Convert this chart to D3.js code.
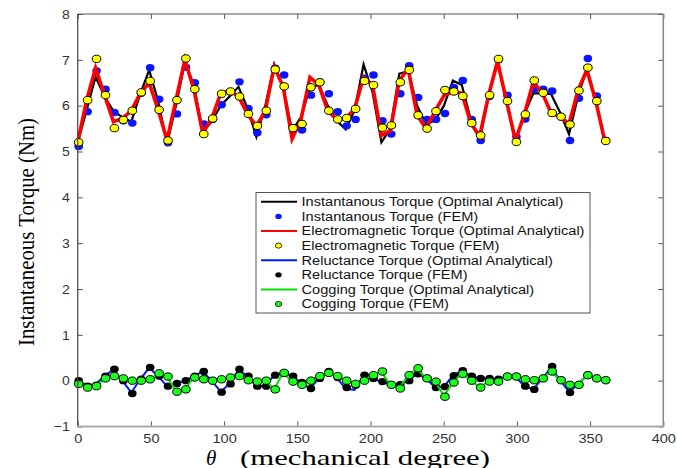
<!DOCTYPE html>
<html><head><meta charset="utf-8">
<script src="https://cdn.jsdelivr.net/npm/d3@7"></script>
<style>
html,body{margin:0;padding:0;background:#fff;}
svg{display:block;}
</style></head>
<body>
<svg id="chart" width="677" height="468"></svg>
<script>
// ---- data ----
const theta = d3.range(60).map(i => i * 360 / 59); // mechanical degree grid (0..360)
const xTicks = [0, 50, 100, 150, 200, 250, 300, 350, 400];
const yTicks = [-1, 0, 1, 2, 3, 4, 5, 6, 7, 8];

const instAnalytical = [5.20,5.90,6.63,6.20,5.88,5.75,5.65,6.25,6.78,6.10,5.17,6.00,6.95,6.45,5.43,5.65,6.00,6.20,6.41,5.95,
  5.32,6.00,6.90,6.40,5.45,5.75,6.40,6.45,6.00,5.67,5.48,5.90,6.90,6.30,5.20,5.50,6.70,6.75,6.00,5.60,
  5.68,6.00,6.55,6.45,5.70,5.24,6.23,6.95,6.10,5.24,5.81,6.27,6.27,6.25,5.85,5.38,6.20,6.80,6.10,5.23];
const instFEM = [5.11,5.87,6.76,6.36,5.85,5.67,5.62,6.27,6.83,6.14,5.19,5.82,6.84,6.50,5.60,5.70,6.02,6.30,6.52,5.94,
  5.41,5.80,6.82,6.67,5.51,5.47,6.23,6.52,6.26,5.87,5.56,5.70,6.60,6.67,5.67,5.38,6.26,6.87,6.18,5.70,
  5.70,5.83,6.40,6.55,5.70,5.24,6.20,7.00,6.23,5.32,5.71,6.36,6.36,6.32,5.76,5.24,6.16,7.03,6.21,5.24];
const emAnalytical = [5.20,6.12,6.82,6.23,5.65,5.72,5.89,6.27,6.50,5.91,5.25,6.12,7.00,6.36,5.40,5.72,6.26,6.33,6.20,5.82,
  5.55,5.89,6.85,6.42,5.28,5.70,6.62,6.45,5.89,5.70,5.72,5.93,6.62,6.45,5.35,5.45,6.55,6.80,5.79,5.50,
  5.88,6.22,6.31,6.27,5.62,5.33,6.23,6.97,6.10,5.24,5.81,6.52,6.28,5.84,5.76,5.60,6.33,6.78,6.10,5.23];
const emFEM = [5.20,6.12,7.02,6.23,5.51,5.69,5.89,6.29,6.54,5.91,5.24,6.12,7.03,6.36,5.38,5.72,6.26,6.31,6.20,5.82,
  5.56,5.89,6.79,6.42,5.51,5.60,6.40,6.51,5.89,5.70,5.73,5.93,6.54,6.45,5.52,5.57,6.51,6.78,5.79,5.50,
  5.88,6.34,6.31,6.21,5.62,5.35,6.23,7.02,6.10,5.21,5.81,6.55,6.28,5.84,5.76,5.59,6.33,6.83,6.10,5.23];
const relAnalytical = [0.00,-0.10,-0.08,0.10,0.24,0.00,-0.26,0.03,0.28,0.10,-0.12,-0.06,0.00,0.10,0.20,0.00,-0.24,-0.07,0.24,0.10,
  -0.12,-0.12,0.12,0.17,0.10,-0.04,-0.17,0.05,0.20,0.07,-0.18,-0.20,0.12,0.05,-0.02,-0.09,-0.09,0.00,0.15,0.05,
  -0.15,-0.13,0.11,0.22,0.10,0.05,0.05,0.03,0.09,0.09,-0.12,-0.19,0.05,0.28,0.01,-0.24,-0.09,0.12,0.05,0.01];
const relFEM = [0.00,-0.12,-0.10,0.10,0.25,0.00,-0.28,0.03,0.29,0.10,-0.12,-0.06,0.00,0.10,0.20,0.00,-0.25,-0.07,0.25,0.10,
  -0.12,-0.12,0.12,0.17,0.10,-0.04,-0.17,0.05,0.20,0.07,-0.15,-0.10,0.12,0.05,-0.02,-0.09,-0.09,0.00,0.15,0.05,
  -0.15,-0.13,0.11,0.22,0.10,0.05,0.05,0.03,0.09,0.09,-0.12,-0.19,0.05,0.31,0.01,-0.26,-0.09,0.12,0.05,0.01];
const cogAnalytical = [-0.07,-0.14,-0.12,0.05,0.10,0.05,0.00,0.00,0.03,0.15,0.09,-0.23,-0.19,0.07,0.03,0.00,0.03,0.07,0.10,0.01,
  -0.02,0.00,-0.18,0.17,-0.02,-0.09,0.00,0.10,0.17,0.10,0.00,-0.07,0.00,0.12,0.19,-0.09,-0.16,0.12,0.26,0.05,
  -0.02,-0.33,-0.04,0.15,0.00,-0.14,-0.02,-0.02,0.09,0.09,0.03,0.01,0.05,0.20,0.01,-0.09,-0.09,0.12,0.05,0.01];
const cogFEM = [-0.07,-0.15,-0.12,0.05,0.10,0.05,0.00,0.00,0.03,0.16,0.09,-0.24,-0.19,0.07,0.03,0.00,0.03,0.07,0.10,0.01,
  -0.02,0.00,-0.19,0.17,-0.02,-0.09,0.00,0.10,0.17,0.10,0.00,-0.07,0.00,0.12,0.20,-0.09,-0.17,0.12,0.27,0.05,
  -0.02,-0.35,-0.04,0.15,0.00,-0.15,-0.02,-0.02,0.09,0.09,0.03,0.01,0.05,0.20,0.01,-0.09,-0.09,0.12,0.05,0.01];

const legendLabels = [
  "Instantanous Torque (Optimal Analytical)",
  "Instantanous Torque (FEM)",
  "Electromagnetic Torque (Optimal Analytical)",
  "Electromagnetic Torque (FEM)",
  "Reluctance Torque (Optimal Analytical)",
  "Reluctance Torque (FEM)",
  "Cogging Torque (Optimal Analytical)",
  "Cogging Torque (FEM)"
];

// ---- layout ----
const L = 77.7, R = 663.3, T = 14, B = 426.5;
const svg = d3.select("#chart");
const x = d3.scaleLinear().domain([0, 400]).range([L, R]);
const y = d3.scaleLinear().domain([-1, 8]).range([B, T]);

const series = [
  {type: "line", data: instAnalytical, color: "#000000", width: 2.2},
  {type: "dot", data: instFEM, fill: "#0a14ff", stroke: "none"},
  {type: "line", data: emAnalytical, color: "#ff0000", width: 3.6},
  {type: "dot", data: emFEM, fill: "#ffff00", stroke: "#000"},
  {type: "line", data: relAnalytical, color: "#0018ff", width: 2},
  {type: "dot", data: relFEM, fill: "#000000", stroke: "none"},
  {type: "line", data: cogAnalytical, color: "#00e000", width: 2},
  {type: "dot", data: cogFEM, fill: "#1aff1a", stroke: "#000"}
];

const line = d3.line().x((d, i) => x(theta[i])).y(d => y(d));

svg.append("rect").attr("x", L).attr("y", T).attr("width", R - L).attr("height", B - T)
  .attr("fill", "#fff").attr("stroke", "none");

const plot = svg.append("g");
series.forEach(s => {
  if (s.type === "line") {
    plot.append("path").datum(s.data).attr("d", line)
      .attr("fill", "none").attr("stroke", s.color).attr("stroke-width", s.width)
      .attr("stroke-linejoin", "miter").attr("stroke-miterlimit", 4);
  } else {
    plot.append("g").selectAll("ellipse").data(s.data).join("ellipse")
      .attr("cx", (d, i) => x(theta[i]) + 1).attr("cy", d => y(d))
      .attr("rx", 4.3).attr("ry", 3.7)
      .attr("fill", s.fill).attr("stroke", s.stroke).attr("stroke-width", 1);
  }
});

// axes
const tickFont = "Liberation Sans, Arial, sans-serif";
const gx = svg.append("g").attr("transform", `translate(0,${B})`)
  .call(d3.axisBottom(x).tickValues(xTicks).tickSize(-5).tickPadding(8).tickFormat(d3.format("d")));
const gy = svg.append("g").attr("transform", `translate(${L},0)`)
  .call(d3.axisLeft(y).tickValues(yTicks).tickSize(-5).tickPadding(8).tickFormat(d3.format("d")));
const gt = svg.append("g").attr("transform", `translate(0,${T})`)
  .call(d3.axisTop(x).tickValues(xTicks).tickSize(-5).tickFormat(""));
const gr = svg.append("g").attr("transform", `translate(${R},0)`)
  .call(d3.axisRight(y).tickValues(yTicks).tickSize(-5).tickFormat(""));

[gx, gy, gt, gr].forEach(g => {
  g.selectAll(".domain").remove();
  g.selectAll(".tick line").attr("stroke", "#555");
  g.selectAll("text").attr("font-family", tickFont).attr("font-size", 13).attr("fill", "#333");
});
gx.selectAll("text").attr("y", 0).attr("dy", null).attr("transform", null)
  .attr("y", 16);  // baseline just below the axis
gx.selectAll("text").each(function () {
  const w = this.getComputedTextLength();
  d3.select(this).attr("textLength", w * 1.12).attr("lengthAdjust", "spacingAndGlyphs");
});
gy.selectAll("text").attr("x", -8);
gy.selectAll("text").each(function () {
  const w = this.getComputedTextLength();
  d3.select(this).attr("textLength", w * 1.08).attr("lengthAdjust", "spacingAndGlyphs");
});

// border lines
svg.append("line").attr("x1", L).attr("x2", L).attr("y1", T).attr("y2", B).attr("stroke", "#444").attr("stroke-width", 1.2);
svg.append("line").attr("x1", L).attr("x2", R).attr("y1", T).attr("y2", T).attr("stroke", "#555").attr("stroke-width", 1.2);
svg.append("line").attr("x1", R).attr("x2", R).attr("y1", T).attr("y2", B).attr("stroke", "#888").attr("stroke-width", 1.5);
svg.append("line").attr("x1", L).attr("x2", R).attr("y1", B).attr("y2", B).attr("stroke", "#aaa").attr("stroke-width", 2);

// axis titles
const serif = "Liberation Serif, Times New Roman, serif";
svg.append("text").attr("x", 206).attr("y", 464.5)
  .attr("font-family", serif).attr("font-size", 21).attr("font-style", "italic").attr("fill", "#000")
  .text("θ");
svg.append("text").attr("x", 240).attr("y", 464.5)
  .attr("font-family", serif).attr("font-size", 21).attr("fill", "#000")
  .attr("textLength", 250).attr("lengthAdjust", "spacingAndGlyphs")
  .text("(mechanical degree)");

svg.append("text")
  .attr("transform", `translate(34,232) rotate(-90)`)
  .attr("text-anchor", "middle")
  .attr("font-family", serif).attr("font-size", 23)
  .attr("textLength", 228).attr("lengthAdjust", "spacingAndGlyphs")
  .attr("fill", "#000")
  .text("Instantaneous Torque (Nm)");

// legend
const lg = svg.append("g");
const lgX = 256, lgY = 192.5, lgW = 334, lgH = 120.5, rowH = 14.6;
lg.append("rect").attr("x", lgX).attr("y", lgY).attr("width", lgW).attr("height", lgH)
  .attr("fill", "#fff").attr("stroke", "#555").attr("stroke-width", 1);
const legendTexts = [];
series.forEach((s, i) => {
  const cy = lgY + 9.3 + i * rowH;
  if (s.type === "line") {
    lg.append("line").attr("x1", lgX + 5).attr("x2", lgX + 41).attr("y1", cy).attr("y2", cy)
      .attr("stroke", s.color).attr("stroke-width", 2);
  } else {
    lg.append("ellipse").attr("cx", lgX + 22.5).attr("cy", cy).attr("rx", 3.2).attr("ry", 2.6)
      .attr("fill", s.fill).attr("stroke", s.stroke).attr("stroke-width", 0.8);
  }
  legendTexts.push(lg.append("text").attr("x", lgX + 45.5).attr("y", cy).attr("dy", "0.35em")
    .attr("font-family", tickFont).attr("font-size", 12.5).attr("fill", "#111")
    .text(legendLabels[i]));
});
// stretch legend text horizontally to match the reference's wide lettering
const widest = d3.max(legendTexts, t => t.node().getComputedTextLength());
const stretch = 283 / widest;
legendTexts.forEach(t => {
  const w = t.node().getComputedTextLength();
  t.attr("textLength", w * stretch).attr("lengthAdjust", "spacingAndGlyphs");
});
</script>
</body></html>
